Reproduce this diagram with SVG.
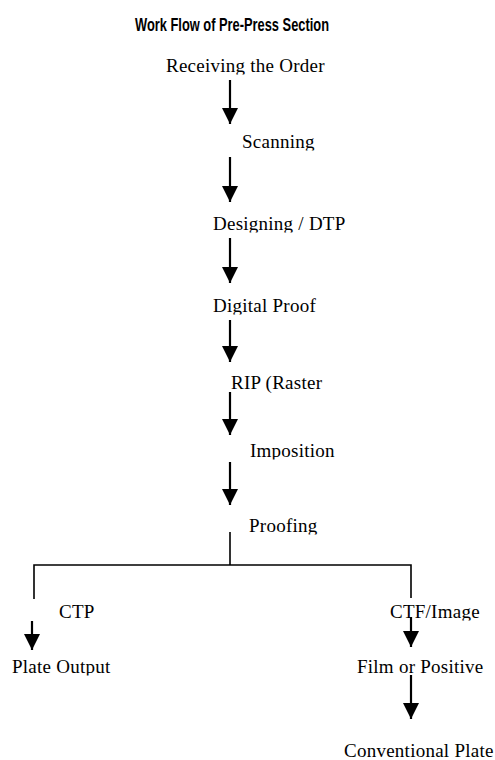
<svg xmlns="http://www.w3.org/2000/svg" width="495" height="760" viewBox="0 0 495 760">
  <style>
    .lbl { font-family: "Liberation Serif", "Times New Roman", serif; font-size: 19px; fill: #000; letter-spacing: 0.25px; }
    .title { font-family: "Liberation Sans", Arial, sans-serif; font-size: 18px; font-weight: bold; fill: #000; }
    .arrow { stroke: #000; stroke-width: 2.2; fill: none; marker-end: url(#head); }
    .line { stroke: #000; stroke-width: 1.6; fill: none; }
  </style>
  <defs>
    <marker id="head" markerUnits="userSpaceOnUse" markerWidth="16" markerHeight="16" refX="16" refY="8" orient="auto" viewBox="0 0 16 16">
      <path d="M0,0 L16,8 L0,16 z" fill="#000"/>
    </marker>
    <clipPath id="c1"><rect x="0" y="40" width="495" height="34.5"/></clipPath>
    <clipPath id="c2"><rect x="0" y="120" width="495" height="30.5"/></clipPath>
    <clipPath id="c3"><rect x="0" y="200" width="495" height="32.5"/></clipPath>
    <clipPath id="c4"><rect x="0" y="285" width="495" height="29.5"/></clipPath>
    <clipPath id="c6"><rect x="0" y="430" width="495" height="29.5"/></clipPath>
    <clipPath id="c7"><rect x="0" y="505" width="495" height="29.5"/></clipPath>
    <clipPath id="c8"><rect x="0" y="590" width="495" height="30.5"/></clipPath>
    <clipPath id="c9"><rect x="0" y="645" width="495" height="30.5"/></clipPath>
  </defs>
  <rect width="495" height="760" fill="#fff"/>

  <g id="title"><text class="title" x="135" y="31" textLength="194" lengthAdjust="spacingAndGlyphs">Work Flow of Pre-Press Section</text></g>

  <g id="n-receiving" clip-path="url(#c1)"><text class="lbl" x="166" y="72">Receiving the Order</text></g>
  <g id="n-scanning" clip-path="url(#c2)"><text class="lbl" x="242" y="148">Scanning</text></g>
  <g id="n-designing" clip-path="url(#c3)"><text class="lbl" x="213" y="230">Designing / DTP</text></g>
  <g id="n-digital-proof" clip-path="url(#c4)"><text class="lbl" x="213" y="312">Digital Proof</text></g>
  <g id="n-rip"><text class="lbl" x="231" y="389">RIP (Raster</text></g>
  <g id="n-imposition" clip-path="url(#c6)"><text class="lbl" x="250" y="457">Imposition</text></g>
  <g id="n-proofing" clip-path="url(#c7)"><text class="lbl" x="249" y="532">Proofing</text></g>
  <g id="n-ctp" clip-path="url(#c8)"><text class="lbl" x="59" y="618">CTP</text></g>
  <g id="n-ctf" clip-path="url(#c8)"><text class="lbl" x="390" y="618">CTF/Image</text></g>
  <g id="n-plate-output" clip-path="url(#c9)"><text class="lbl" x="12" y="673">Plate Output</text></g>
  <g id="n-film" clip-path="url(#c9)"><text class="lbl" x="357" y="673">Film or Positive</text></g>
  <g id="n-conventional"><text class="lbl" x="344" y="757">Conventional Plate</text></g>

  <g id="connectors">
    <line class="arrow" x1="230" y1="80" x2="230" y2="124"/>
    <line class="arrow" x1="230" y1="157" x2="230" y2="202"/>
    <line class="arrow" x1="230" y1="238" x2="230" y2="283"/>
    <line class="arrow" x1="230" y1="320" x2="230" y2="362"/>
    <line class="arrow" x1="230" y1="392" x2="230" y2="435"/>
    <line class="arrow" x1="230" y1="462" x2="230" y2="505"/>
    <path class="line" d="M230,532 V565 M34,599 V565 H411 V598"/>
    <line class="arrow" x1="32" y1="621" x2="32" y2="650"/>
    <line class="arrow" x1="411" y1="617" x2="411" y2="647"/>
    <line class="arrow" x1="411" y1="675" x2="411" y2="719"/>
  </g>
</svg>
